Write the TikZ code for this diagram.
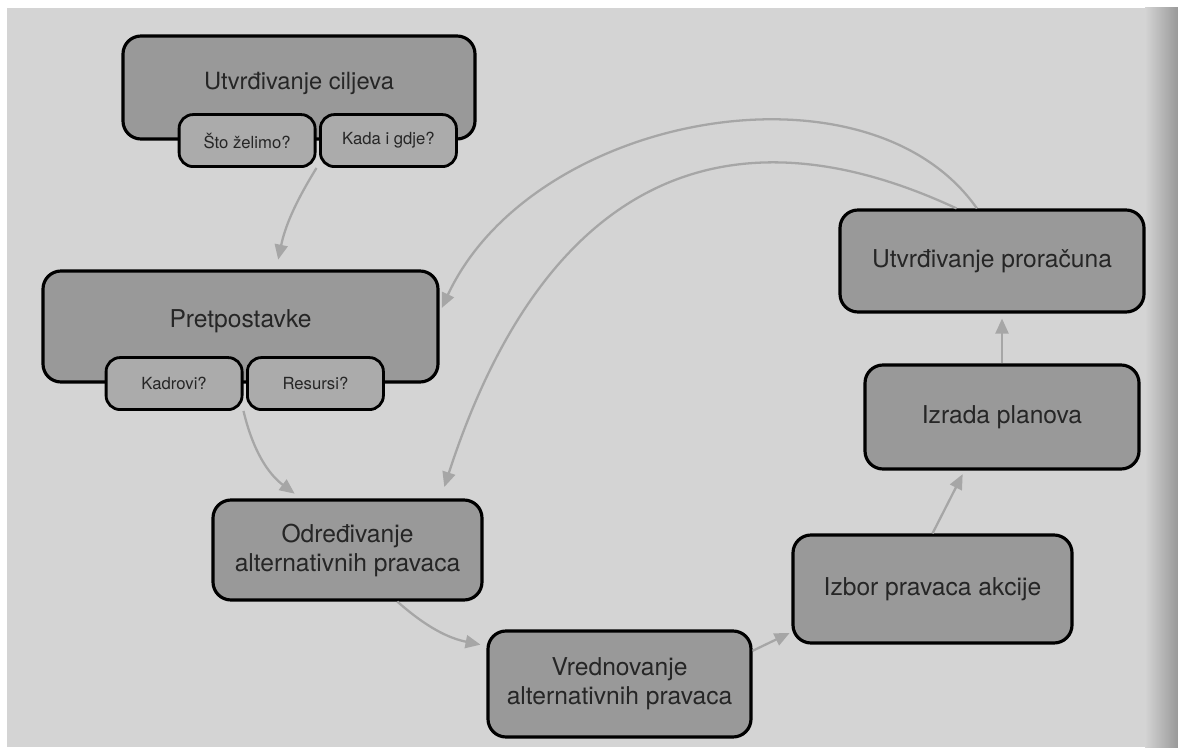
\documentclass[tikz,border=0pt]{standalone}
\usepackage{fontspec}
\setmainfont{TeX Gyre Heros}
\usetikzlibrary{arrows.meta}
\usetikzlibrary{positioning}
\definecolor{bggray}{gray}{0.83}
\definecolor{boxgray}{gray}{0.60}
\definecolor{subgray}{gray}{0.67}
\definecolor{arrowgray}{gray}{0.65}
\tikzstyle{stage} = [rectangle, rounded corners=0.36cm, draw=black, line width=1.8pt, fill=boxgray, text=black!85, align=center, inner sep=0pt, font=\fontsize{14}{16.5}\selectfont]
\tikzstyle{question} = [rectangle, rounded corners=0.28cm, draw=black, line width=1.6pt, fill=subgray, minimum width=2.72cm, minimum height=1.04cm, text=black!85, inner sep=0pt, font=\fontsize{9.5}{11}\selectfont]
\tikzstyle{flow} = [draw=arrowgray, line width=1.3pt, -{Triangle[length=0.3cm,width=0.26cm]}]

\begin{document}
\begin{tikzpicture}[node distance=0.05cm]
 \useasboundingbox (0,0) rectangle (23.56,14.94);
 \fill[white] (0,0) rectangle (23.56,14.94);
 \fill[bggray] (0.14,0) rectangle (23.56,14.78);
 \shade[left color=bggray, right color=black!40] (22.9,0) rectangle (23.56,14.78);

 % goals and assumptions
 \node (ciljevi) [stage, minimum width=7.04cm, text height=1.08cm, text depth=0.98cm, font=\fontsize{13.5}{16}\selectfont] at (5.98,13.19) {Utvrđivanje ciljeva};
 \node (sto) [question, anchor=east] at ([xshift=0.35cm]ciljevi.south) {Što želimo?};
 \node (kada) [question, right=of sto] {Kada i gdje?};

 \node (pret) [stage, minimum width=7.9cm, text height=1.12cm, text depth=1.1cm] at (4.81,8.41) {Pretpostavke};
 \node (kadrovi) [question, anchor=east] at ([xshift=0.06cm]pret.south) {Kadrovi?};
 \node (resursi) [question, right=of kadrovi] {Resursi?};

 % the planning steps
 \node (odr) [stage, minimum width=5.38cm, minimum height=2.0cm] at (6.95,3.94) {Određivanje\\alternativnih pravaca};
 \node (vred) [stage, minimum width=5.26cm, minimum height=2.12cm] at (12.39,1.26) {Vrednovanje\\alternativnih pravaca};
 \node (izbor) [stage, minimum width=5.58cm, minimum height=2.16cm] at (18.65,3.16) {Izbor pravaca akcije};
 \node (izrada) [stage, minimum width=5.48cm, minimum height=2.08cm] at (20.04,6.60) {Izrada planova};
 \node (proracun) [stage, minimum width=6.08cm, minimum height=2.04cm] at (19.84,9.72) {Utvrđivanje proračuna};

 \draw[flow, shorten >=0.2cm] (sto.south east) to[bend right=10] (pret.58);
 \draw[flow, shorten >=0.16cm] (kadrovi.south east) to[bend right=20] (odr.132);
 \draw[flow, shorten >=0.12cm] (odr.314) to[bend right=15] (vred.164);
 \draw[flow, shorten >=0.04cm] (vred.14) -- (izbor.197);
 \draw[flow, shorten >=0.08cm] (izbor.north) -- (izrada.235);
 \draw[flow, shorten >=0.1cm] (izrada.north) -- (izrada.north |- proracun.south);
 % feedback from the budget
 \draw[flow, shorten >=0.1cm] (proracun.106) .. controls +(125:3.8) and +(65:4.4) .. (pret.4);
 \draw[flow, shorten >=0.24cm] (proracun.124) .. controls +(155:5.2) and +(72:6.6) .. (odr.29);
\end{tikzpicture}
\end{document}
